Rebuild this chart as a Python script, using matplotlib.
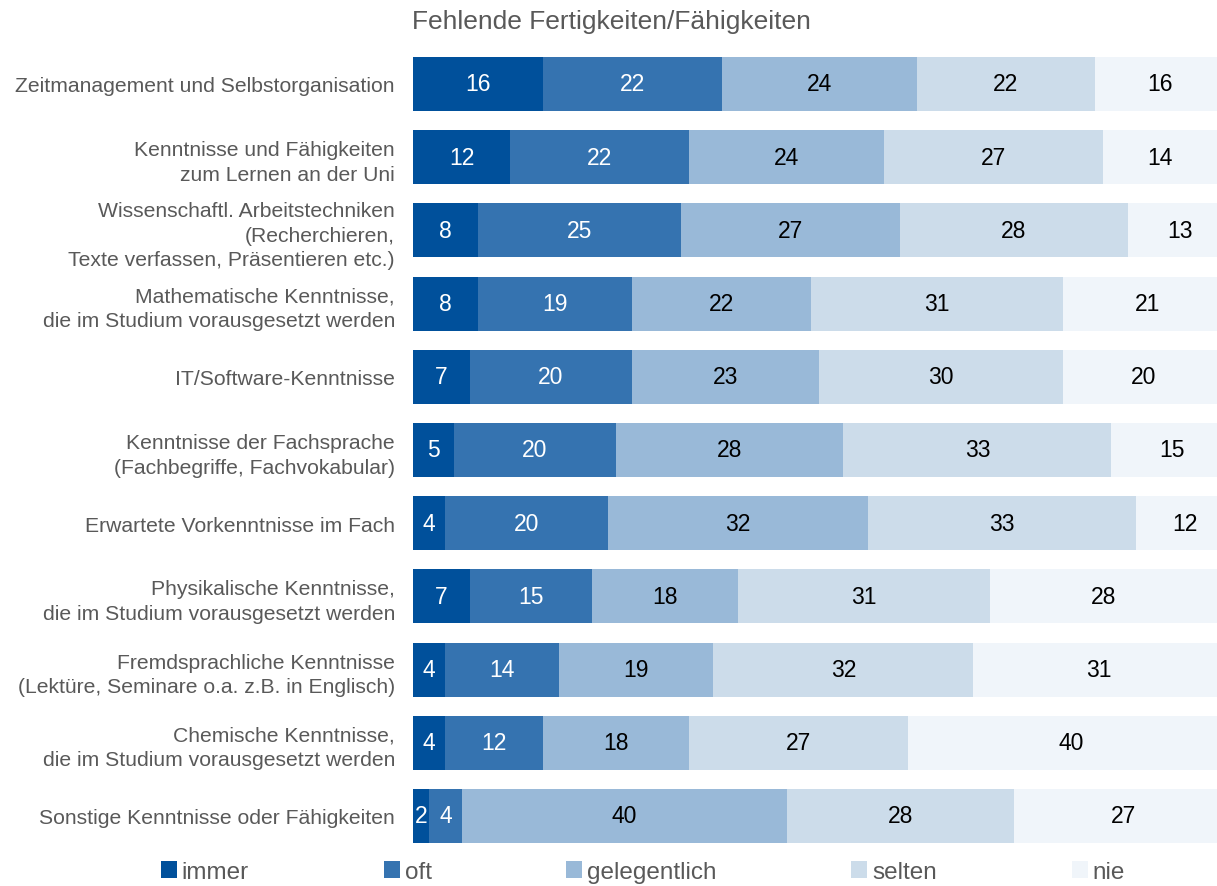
import numpy as np
import matplotlib.pyplot as plt
from matplotlib.patches import Patch

plt.rcParams['font.family'] = ['Liberation Sans', 'DejaVu Sans']

categories = [
    "Zeitmanagement und Selbstorganisation",
    "Kenntnisse und Fähigkeiten\nzum Lernen an der Uni",
    "Wissenschaftl. Arbeitstechniken\n(Recherchieren,\nTexte verfassen, Präsentieren etc.)",
    "Mathematische Kenntnisse,\ndie im Studium vorausgesetzt werden",
    "IT/Software-Kenntnisse",
    "Kenntnisse der Fachsprache\n(Fachbegriffe, Fachvokabular)",
    "Erwartete Vorkenntnisse im Fach",
    "Physikalische Kenntnisse,\ndie im Studium vorausgesetzt werden",
    "Fremdsprachliche Kenntnisse\n(Lektüre, Seminare o.a. z.B. in Englisch)",
    "Chemische Kenntnisse,\ndie im Studium vorausgesetzt werden",
    "Sonstige Kenntnisse oder Fähigkeiten",
]
series = ["immer", "oft", "gelegentlich", "selten", "nie"]
immer = [16, 12, 8, 8, 7, 5, 4, 7, 4, 4, 2]
oft = [22, 22, 25, 19, 20, 20, 20, 15, 14, 12, 4]
gelegentlich = [24, 24, 27, 22, 23, 28, 32, 18, 19, 18, 40]
selten = [22, 27, 28, 31, 30, 33, 33, 31, 32, 27, 28]
nie = [16, 14, 13, 21, 20, 15, 12, 28, 31, 40, 27]

colors = ["#00509b", "#3573b0", "#99b9d8", "#ccdcea", "#f0f5fa"]
text_colors = ["white", "white", "black", "black", "black"]

fig = plt.figure(figsize=(12.17, 8.87), dpi=100)
ax = fig.add_axes([413 / 1217, 1 - 853.6 / 887, 1 - 413 / 1217, (853.6 - 48.4) / 887])

y = np.arange(len(categories))
left = np.zeros(len(categories))
for name, vals, c, tc in zip(series, [immer, oft, gelegentlich, selten, nie], colors, text_colors):
    vals = np.array(vals, dtype=float)
    ax.barh(y, vals, left=left, height=0.74, color=c, edgecolor='none')
    for yi, l, v in zip(y, left, vals):
        ax.text(l + v / 2, yi, f"{int(v)}", ha='center', va='center', color=tc, fontsize=16.5)
    left += vals

ax.set_xlim(0, 99)
ax.set_ylim(len(categories) - 0.5, -0.5)
ax.set_yticks(y)
ax.set_yticklabels(categories, fontsize=15.2, color='#595959', linespacing=1.37)
ax.tick_params(axis='y', length=0, pad=13)
ax.set_xticks([])
for s in ax.spines.values():
    s.set_visible(False)

fig.text(611 / 1217, 1 - 22 / 887, "Fehlende Fertigkeiten/Fähigkeiten", ha='center', va='center',
         fontsize=19, color='#595959')

handles = [Patch(facecolor=c, edgecolor='none') for c in colors]
fig.legend(handles, series, loc='center', bbox_to_anchor=(643 / 1217, 1 - 873 / 887), ncol=5,
           frameon=False, fontsize=17.5, handlelength=0.65, handleheight=0.65, handletextpad=0.2,
           columnspacing=5.55, labelcolor='#595959', borderpad=0.1)

fig.savefig("out.png", dpi=100)
